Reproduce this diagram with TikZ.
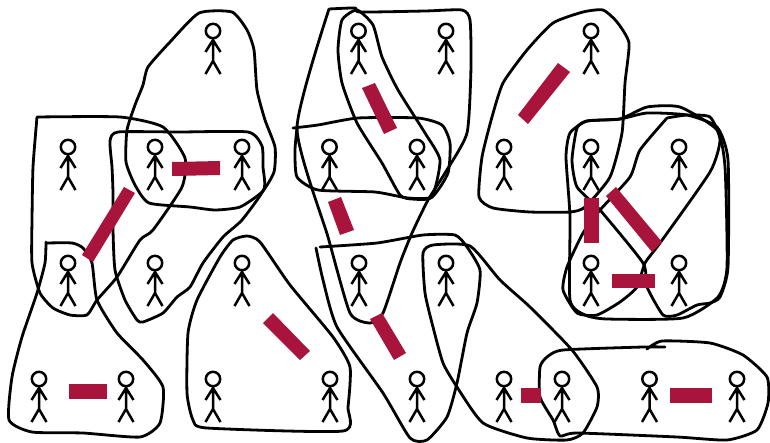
\documentclass[tikz,border=0pt]{standalone}
\definecolor{barred}{HTML}{A8143B}
\tikzset{
  x=1pt,y=-1pt,
  blob/.style={draw=black,line width=2.8pt,line join=round,line cap=round},
  bar/.style={fill=barred,draw=none},
  person/.pic={
    \draw[line width=2.5pt,line join=round] (0,0) circle (7.2);
    \draw[line width=2.5pt,line join=miter] (0,7) -- (0,30) (-7.5,21) -- (0,9) -- (7.5,21) (-7.5,43) -- (0,30) -- (7.5,43);
  }
}
\begin{document}
\begin{tikzpicture}
\useasboundingbox (0,0) rectangle (770,442);
\foreach \px/\py in {213/31,68/147,155/147,242/147,68/263,155/263,242/263,39/379,126/379,213/379,330/379,
  358.5/31,446/31,329.5/147,417/147,591/31,504/147,591/147,679/147,591/263,679/263,
  359/263,446/263,417/379,504/379,562/379,649.5/379,737/379}
  \pic at (\px,\py) {person};
% top triangle
\draw[blob] plot[smooth cycle,tension=0.35] coordinates {(199,13)(232,12)(247,30)(254,50)(257,90)(265,120)(275,147)(274,172)(262,192)(240,207)(215,210)(190,207)(149,203)(135,185)(126,162)(127,130)(135,105)(143,85)(148,67)(170,42)};
% rounded group
\draw[blob] plot[smooth cycle,tension=0.35] coordinates {(113,193)(113,230)(115,270)(125,300)(137,320)(143,322)(163,313)(177,297)(190,287)(203,263)(223,237)(242,220)(264,189)(263,167)(262,146)(248,132)(180,132)(118,132)(110,141)(112,167)};
% left group
\draw[blob] plot[smooth,tension=0.35] coordinates {(37,117)(120,117)(163,127)(185,158)(182,187)(153,230)(140,240)(117,277)(97,300)(87,315)(70,315)(53,308)(40,293)(32,263)(32,220)(33,167)(37,117)};
% bottom-left group
\draw[blob] plot[smooth,tension=0.35] coordinates {(46,242)(45,263)(37,293)(22,337)(12,377)(9,420)(32,432)(83,433)(140,437)(160,423)(163,387)(143,360)(117,333)(97,300)(92,263)(83,248)(72,243)(46,243)};
% triangle
\draw[blob] plot[smooth cycle,tension=0.35] coordinates {(247,236)(233,240)(220,257)(197,300)(188,333)(187,393)(193,420)(207,428)(343,431)(348,407)(350,367)(333,337)(290,285)(260,242)};
% large upper middle
\draw[blob] plot[smooth,tension=0.35] coordinates {(329,9)(297,128)(328,237)(350,313)(370,323)(383,313)(400,263)(412,233)(428,200)(445,173)(467,133)(471,67)(470,20)(462,10)(425,11)(360,12)(355,8)(329,9)};
% diagonal upper middle
\draw[blob] plot[smooth cycle,tension=0.35] coordinates {(357,10)(342,20)(338,50)(342,83)(357,123)(382,163)(400,195)(412,199)(432,197)(440,160)(425,133)(398,90)(382,57)(373,25)};
% horizontal middle
\draw[blob] plot[smooth,tension=0.35] coordinates {(293,128)(318,125)(358,118)(418,118)(442,125)(450,143)(448,173)(432,197)(408,198)(375,192)(318,190)(297,177)(295,150)(297,128)};
% lower middle
\draw[blob] plot[smooth,tension=0.35] coordinates {(320,247)(377,243)(423,235)(455,235)(467,247)(480,270)(477,303)(467,333)(457,383)(447,417)(427,440)(410,438)(383,393)(337,327)(323,280)(316,248)};
% lower right diagonal
\draw[blob] plot[smooth cycle,tension=0.35] coordinates {(423,253)(433,245)(470,246)(500,280)(530,307)(572,350)(597,387)(597,407)(583,433)(567,440)(527,438)(483,423)(457,387)(443,363)(433,327)(425,293)};
% bottom right
\draw[blob] plot[smooth,tension=0.35] coordinates {(647,349)(662,341)(710,343)(743,355)(767,377)(768,403)(757,430)(727,440)(677,437)(577,433)(560,436)(553,420)(540,397)(540,367)(547,357)(563,350)(643,347)(665,347)};
% top right
\draw[blob] plot[smooth cycle,tension=0.35] coordinates {(603,10)(583,12)(553,23)(527,50)(503,83)(492,117)(482,157)(479,197)(493,208)(530,212)(570,212)(585,207)(610,177)(622,133)(625,83)(629,43)(617,22)};
% four-person cluster
\draw[blob] plot[smooth cycle,tension=0.35] coordinates {(566,157)(570,217)(570,300)(585,315)(607,319)(683,318)(718,297)(727,267)(725,167)(717,130)(680,107)(647,107)(620,119)(587,121)(570,133)};
\draw[blob] plot[smooth cycle,tension=0.35] coordinates {(577,128)(572,160)(577,187)(600,210)(643,263)(647,287)(663,315)(677,315)(697,305)(710,303)(720,297)(728,267)(728,160)(717,127)(687,115)(647,113)(620,119)(587,121)};
\draw[blob] plot[smooth,tension=0.35] coordinates {(667,118)(687,115)(710,117)(720,140)(710,172)(660,243)(645,263)(637,287)(620,302)(597,315)(577,313)(563,290)(567,267)(583,233)(600,210)(630,177)(640,150)(667,118)};
% bars
\fill[bar] (172,162) -- (220,161) -- (220,175) -- (172,176) -- cycle;
\fill[bar] (124,187) -- (135,193) -- (93,262) -- (82,255) -- cycle;
\fill[bar] (69,384) rectangle (107,399);
\fill[bar] (273,313) -- (310,351) -- (300,360) -- (263,323) -- cycle;
\fill[bar] (362,88) -- (375,83) -- (397,128) -- (384,134) -- cycle;
\fill[bar] (328,202) -- (341,197) -- (354,230) -- (340,235) -- cycle;
\fill[bar] (370,319) -- (382,313) -- (406,353) -- (394,360) -- cycle;
\fill[bar] (521,388) rectangle (541,403);
\fill[bar] (670,388) rectangle (712,403);
\fill[bar] (558,63) -- (570,72) -- (528,124) -- (518,115) -- cycle;
\fill[bar] (584,198) rectangle (599,243);
\fill[bar] (616,187) -- (662,242) -- (652,252) -- (606,196) -- cycle;
\fill[bar] (612,274) rectangle (655,288);
\end{tikzpicture}
\end{document}
